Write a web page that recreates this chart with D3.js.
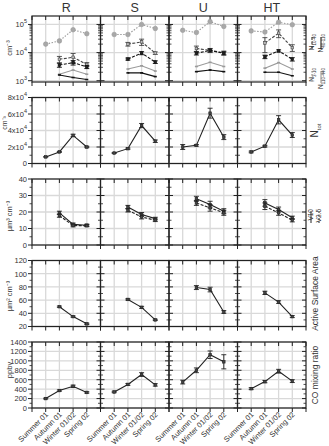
<!DOCTYPE html>
<html>
<head>
<meta charset="utf-8">
<script src="https://cdn.jsdelivr.net/npm/d3@7"></script>
<style>
  body { margin: 0; background: #fff; }
  text { font-family: "Liberation Sans", Arial, sans-serif; fill: #333; }
</style>
</head>
<body>
<svg id="chart" width="329" height="446"></svg>
<script>
// categories
const seasons = ["Summer 01", "Autumn 01", "Winter 01/02", "Spring 02"];
const sites = ["R", "S", "U", "HT"];

// row 1: size-resolved number concentrations (cm-3), per site R, S, U, HT
const nDotted = [[2.0e4, 2.6e4, 6.5e4, 4.7e4], [4.4e4, 4.4e4, 1.0e5, 7.2e4], [6.2e4, 5.2e4, 1.26e5, 8.5e4], [5.9e4, 5.4e4, 1.2e5, 9.8e4]];
const nDashA = [[null, 5.8e3, 6.8e3, 3.8e3], [null, 2.0e4, 2.4e4, 9.6e3], [null, 1.4e4, 1.2e4, 9.8e3], [null, 2.2e4, 4.9e4, 1.5e4]];
const nDashAErr = [[0, 1.5e3, 2.5e3, 6e2], [0, 3e3, 6e3, 1e3], [0, 3e3, 2e3, 1.5e3], [0, 1.2e4, 1.5e4, 4e3]];
const nDashB = [[null, 3.6e3, 4.4e3, 3.1e3], [null, 5.9e3, 9.6e3, 4.6e3], [null, 9.4e3, 1.2e4, 9.4e3], [null, 7.1e3, 1.15e4, 5.8e3]];
const nDashBErr = [[0, 6e2, 8e2, 4e2], [0, 5e2, 1.2e3, 5e2], [0, 1.2e3, 1.5e3, 1.2e3], [0, 1e3, 1e3, 8e2]];
const nGray = [[null, 1.7e3, 2.4e3, 1.7e3], [null, 2.6e3, 3.4e3, 2.2e3], [null, 3.2e3, 4.5e3, 3.2e3], [null, 2.8e3, 4.4e3, 2.6e3]];
const nBlack = [[null, 1.6e3, 1.3e3, 1.1e3], [null, 1.9e3, 1.9e3, 1.4e3], [null, 2.1e3, 2.4e3, 2.1e3], [null, 2.0e3, 2.0e3, 1.5e3]];

// row 2: total number concentration
const nTot = [[0.8e4, 1.4e4, 3.4e4, 2.0e4], [1.27e4, 1.8e4, 4.6e4, 2.7e4], [2.0e4, 2.2e4, 6.1e4, 3.2e4], [1.4e4, 2.1e4, 5.3e4, 3.45e4]];
const nTotErr = [[300, 600, 1500, 800], [500, 800, 2500, 1500], [3000, 1000, 6000, 3000], [1000, 1000, 5000, 3000]];

// row 3: volume concentrations
const v10 = [[null, 19.5, 12.5, 12.0], [null, 23, 18.5, 16], [null, 28, 24.5, 20.5], [null, 25.5, 21.5, 16.5]];
const v25 = [[null, 17.8, 11.8, 11.7], [null, 21, 17, 15], [null, 25.5, 22.5, 19.5], [null, 23.5, 19.5, 15]];
const vErr = [[0, 1, 0.8, 0.6], [0, 1, 1.2, 0.8], [0, 1.5, 2, 1.5], [0, 2, 1.5, 1]];

// row 4: active surface area
const asa = [[null, 50, 35, 24], [null, 61, 49, 30], [null, 79, 76, 42], [null, 71, 57, 35]];
const asaErr = [[0, 1, 1, 1], [0, 1, 1.5, 1], [0, 3, 3.5, 2], [0, 2.5, 2, 1.5]];

// row 5: CO mixing ratio
const co = [[200, 370, 460, 330], [340, 500, 710, 490], [550, 800, 1130, 980], [410, 560, 780, 570]];
const coErr = [[10, 15, 25, 15], [15, 20, 40, 25], [40, 50, 80, 150], [20, 25, 40, 30]];

const svg = d3.select("#chart");
const left0 = 32, pw = 68.5, ph = 66;
const rowTop = [16, 97.5, 179, 260.5, 342];
const gridCol = "#d9d9d9";

const sup = (s, base, exp) => { s.text(base); s.append("tspan").attr("dy", -4).attr("font-size", 5.5).text(exp); };

const rows = [
  { scale: () => d3.scaleLog().domain([900, 2e5]), majors: [1e3, 1e4, 1e5],
    minors: d3.range(3, 6).flatMap(k => d3.range(2, 10).map(m => m * Math.pow(10, k - 1))).filter(v => v > 900 && v < 2e5),
    fmt: (t, v) => sup(t, "10", Math.round(Math.log10(v))), unit: "cm\u207B\u00B3", unitY: 48,
    series: i => [
      { data: nDotted[i], dash: "1.5,1.5", color: "#9a9a9a", mark: "circle", fill: "#a8a8a8" },
      { data: nDashA[i], err: nDashAErr[i], dash: "3,1.5", color: "#444", mark: "square", fill: "#bbb" },
      { data: nDashB[i], err: nDashBErr[i], dash: "3,1.5", color: "#111", mark: "square", fill: "#222" },
      { data: nGray[i], color: "#9a9a9a", mark: "tick" },
      { data: nBlack[i], color: "#111", mark: "tick" }
    ] },
  { scale: () => d3.scaleLinear().domain([0, 8e4]), majors: [0, 2e4, 4e4, 6e4, 8e4], minors: [1e4, 3e4, 5e4, 7e4],
    fmt: (t, v) => v === 0 ? t.text("0") : sup(t, (v / 1e4) + "x10", "4"), unit: "cm\u207B\u00B3", unitY: 123,
    series: i => [{ data: nTot[i], err: nTotErr[i], color: "#222", mark: "square", fill: "#444" }] },
  { scale: () => d3.scaleLinear().domain([0, 40]), majors: [0, 10, 20, 30, 40], minors: [5, 15, 25, 35],
    fmt: (t, v) => t.text(v), unit: "\u00B5m\u00B3 cm\u207B\u00B3", unitY: 216,
    series: i => [
      { data: v10[i], err: vErr[i], color: "#222", mark: "square", fill: "#444" },
      { data: v25[i], err: vErr[i], dash: "3,1.5", color: "#222", mark: "square", fill: "#444" }
    ] },
  { scale: () => d3.scaleLinear().domain([20, 120]), majors: [20, 40, 60, 80, 100, 120], minors: [30, 50, 70, 90, 110],
    fmt: (t, v) => t.text(v), unit: "\u00B5m\u00B2 cm\u207B\u00B3", unitY: 296,
    series: i => [{ data: asa[i], err: asaErr[i], color: "#222", mark: "square", fill: "#444" }] },
  { scale: () => d3.scaleLinear().domain([0, 1400]), majors: d3.range(0, 1401, 200), minors: d3.range(100, 1400, 200),
    fmt: (t, v) => t.text(v), unit: "ppbv", unitY: 370,
    series: i => [{ data: co[i], err: coErr[i], color: "#222", mark: "square", fill: "#444" }] }
];

rows.forEach((row, r) => {
  const top = rowTop[r], bottom = top + ph;
  const y = row.scale().range([bottom, top]);

  sites.forEach((site, i) => {
    const x0 = left0 + i * pw;
    const x = d3.scaleLinear().domain([0, 5]).range([x0, x0 + pw]);
    const g = svg.append("g");

    // grid
    g.selectAll(".vg").data([1, 2, 3, 4]).enter().append("line")
      .attr("x1", d => x(d)).attr("x2", d => x(d)).attr("y1", top).attr("y2", bottom)
      .attr("stroke", gridCol).attr("stroke-width", 1.3);
    g.selectAll(".hg").data(row.majors).enter().append("line")
      .attr("x1", x0).attr("x2", x0 + pw).attr("y1", d => y(d)).attr("y2", d => y(d))
      .attr("stroke", gridCol).attr("stroke-width", 1.3);

    // y ticks, left and right of panel
    const side = (xx, dir) => {
      g.selectAll(null).data(row.majors).enter().append("line")
        .attr("x1", xx).attr("x2", xx + dir * 4).attr("y1", d => y(d)).attr("y2", d => y(d))
        .attr("stroke", "#222").attr("stroke-width", 1);
      g.selectAll(null).data(row.minors).enter().append("line")
        .attr("x1", xx).attr("x2", xx + dir * 2.5).attr("y1", d => y(d)).attr("y2", d => y(d))
        .attr("stroke", "#222").attr("stroke-width", 0.8);
    };
    side(x0, i === 0 ? -1 : 1);
    side(x0 + pw, -1);

    // x ticks: top inward, bottom outward
    g.selectAll(null).data(d3.range(0, 6)).enter().append("line")
      .attr("x1", d => x(d)).attr("x2", d => x(d)).attr("y1", bottom).attr("y2", bottom + 4)
      .attr("stroke", "#222");
    g.selectAll(null).data(d3.range(0, 6)).enter().append("line")
      .attr("x1", d => x(d)).attr("x2", d => x(d)).attr("y1", top).attr("y2", top + 4)
      .attr("stroke", "#222");

    // frame
    g.append("rect").attr("x", x0).attr("y", top).attr("width", pw).attr("height", ph)
      .attr("fill", "none").attr("stroke", "#222").attr("stroke-width", 1.2);

    // series
    row.series(i).forEach(s => {
      const pts = s.data.map((v, k) => ({ k: k + 1, v: v, e: s.err ? s.err[k] : 0 }));
      const line = d3.line().defined(d => d.v != null).x(d => x(d.k)).y(d => y(d.v));
      g.append("path").datum(pts).attr("d", line).attr("fill", "none")
        .attr("stroke", s.color).attr("stroke-width", 1.1)
        .attr("stroke-dasharray", s.dash || null);
      const valid = pts.filter(d => d.v != null);
      const eb = valid.filter(d => d.e > 0);
      g.selectAll(null).data(eb).enter().append("path")
        .attr("d", d => {
          const xa = x(d.k), ya = y(d.v + d.e), yb = y(Math.max(d.v - d.e, y.domain()[0]));
          return `M${xa - 2.5},${ya}H${xa + 2.5}M${xa},${ya}V${yb}M${xa - 2.5},${yb}H${xa + 2.5}`;
        })
        .attr("stroke", s.color).attr("stroke-width", 0.9).attr("fill", "none");
      if (s.mark === "circle") {
        g.selectAll(null).data(valid).enter().append("circle")
          .attr("cx", d => x(d.k)).attr("cy", d => y(d.v)).attr("r", 2.3)
          .attr("fill", s.fill).attr("stroke", s.color).attr("stroke-width", 0.6);
      } else if (s.mark === "square") {
        g.selectAll(null).data(valid).enter().append("rect")
          .attr("x", d => x(d.k) - 1.3).attr("y", d => y(d.v) - 1.3).attr("width", 2.6).attr("height", 2.6)
          .attr("fill", s.fill).attr("stroke", s.color).attr("stroke-width", 0.6);
      } else {
        g.selectAll(null).data(valid).enter().append("path")
          .attr("d", d => `M${x(d.k) - 1.5},${y(d.v)}H${x(d.k) + 1.5}`)
          .attr("stroke", s.color).attr("stroke-width", 1.6);
      }
    });

    // column titles
    if (r === 0) {
      svg.append("text").attr("x", x0 + pw / 2).attr("y", 12).attr("text-anchor", "middle")
        .attr("font-size", 12.5).attr("fill", "#222").text(site);
    }
    // season labels
    if (r === rows.length - 1) {
      seasons.forEach((sn, k) => {
        svg.append("text").attr("text-anchor", "end").attr("font-size", 7.5)
          .attr("transform", `translate(${x(k + 1) + 3},${bottom + 7}) rotate(-45)`).text(sn);
      });
    }
  });

  // y tick labels
  row.majors.forEach(v => {
    const t = svg.append("text").attr("x", left0 - 5).attr("y", y(v) + 2.8)
      .attr("text-anchor", "end").attr("font-size", 7.5);
    row.fmt(t, v);
  });
  // unit label
  svg.append("text").attr("text-anchor", "middle").attr("font-size", r === 1 ? 7 : 7.5)
    .attr("transform", `translate(${r === 1 ? 7 : 12},${row.unitY}) rotate(-90)`)
    .text(row.unit);
});

// right hand labels
const rLab = (txt, xx, yy, fs) => svg.append("text").attr("text-anchor", "middle").attr("font-size", fs)
  .attr("transform", `translate(${xx},${yy}) rotate(-90)`).text(txt);
rLab("Active Surface Area", 318, rowTop[3] + ph / 2, 8.5);
rLab("CO mixing ratio", 318, rowTop[4] + ph / 2, 8.5);
const ntl = svg.append("text").attr("text-anchor", "middle").attr("font-size", 10)
  .attr("transform", `translate(318,${rowTop[1] + ph / 2}) rotate(-90)`);
ntl.text("N"); ntl.append("tspan").attr("dy", 3).attr("font-size", 6).text("tot");

// row 1 legend (rotated)
const leg1 = [
  { x: 312, y: 34, label: "N", sub: "10-40", dash: "3,1.5", color: "#333" },
  { x: 321, y: 34, label: "N", sub: "40-110", dash: null, color: "#222" },
  { x: 312, y: 68, label: "N", sub: "3-10", dash: "1.5,1.5", color: "#888" },
  { x: 321, y: 68, label: "N", sub: "110-440", dash: null, color: "#999" }
];
leg1.forEach(l => {
  const t = svg.append("text").attr("font-size", 6.5).attr("text-anchor", "end")
    .attr("transform", `translate(${l.x + 2.3},${l.y}) rotate(-90)`);
  t.text(l.label); t.append("tspan").attr("dy", 1.8).attr("font-size", 4.5).text(l.sub);
  svg.append("line").attr("x1", l.x).attr("x2", l.x).attr("y1", l.y + 3).attr("y2", l.y + 15)
    .attr("stroke", l.color).attr("stroke-width", 1.1).attr("stroke-dasharray", l.dash);
});

// row 3 legend
const leg3 = [
  { x: 311, label: "V10", dash: null },
  { x: 319, label: "V2.5", dash: "2,1.5" }
];
leg3.forEach(l => {
  svg.append("text").attr("font-size", 6.5).attr("text-anchor", "end")
    .attr("transform", `translate(${l.x + 2.3},${rowTop[2] + 30}) rotate(-90)`).text(l.label);
  svg.append("line").attr("x1", l.x).attr("x2", l.x).attr("y1", rowTop[2] + 32).attr("y2", rowTop[2] + 44)
    .attr("stroke", "#222").attr("stroke-width", 1).attr("stroke-dasharray", l.dash);
});
</script>
</body>
</html>
